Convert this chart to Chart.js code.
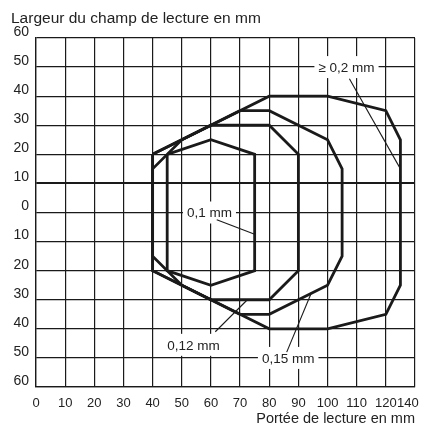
<!DOCTYPE html>
<html>
<head>
<meta charset="utf-8">
<script src="https://cdn.jsdelivr.net/npm/chart.js@4.4.1/dist/chart.umd.min.js"></script>
<style>
    html, body { margin: 0; background: #fff; }
</style>
</head>
<body>
<canvas id="fieldChart" width="428" height="428"></canvas>
<script>
// Reading field outlines (range x, width y) in mm, one per resolution
const field01X = [45, 60, 75, 75, 60, 45];
const field01Y = [20, 25, 20, -20, -25, -20];
const field012X = [40, 60, 80, 90, 90, 80, 60, 40];
const field012Y = [20, 30, 30, 20, -20, -30, -30, -20];
const field015X = [40, 50, 70, 80, 100, 105, 105, 100, 80, 70, 50, 40];
const field015Y = [15, 25, 35, 35, 25, 15, -15, -25, -35, -35, -25, -15];
const field02X = [40, 80, 100, 120, 125, 125, 120, 100, 80, 40];
const field02Y = [20, 40, 40, 35, 25, -25, -35, -40, -40, -20];

// Tick labels
const xTickLabels = ['0', '10', '20', '30', '40', '50', '60', '70', '80', '90', '100', '110', '120', '140'];
const yTickValues = [60, 50, 40, 30, 20, 10, 0, -10, -20, -30, -40, -50, -60];
const yTickLabels = ['60', '50', '40', '30', '20', '10', '0', '10', '20', '30', '40', '50', '60'];

// Resolution labels and their leader lines (data units)
const resLabels = ['0,1 mm', '0,12 mm', '0,15 mm', '\u2265 0,2 mm'];
const resLabelX = [59.5, 54, 86.5, 106.5];
const resLabelY = [0, -45.5, -50, 50];
const leaderFromX = [62, 61.5, 86, 107.5];
const leaderFromY = [-2.5, -41, -48, 46];
const leaderToX = [75, 72.5, 94.5, 125];
const leaderToY = [-7.5, -30, -27.5, 15];

const FONT = '"Liberation Sans", Arial, Helvetica, sans-serif';
const INK = '#1a1a1a';

function outline(xs, ys) {
    const pts = xs.map((x, i) => ({ x: x, y: ys[i] }));
    pts.push(pts[0]); // close the polygon
    return pts;
}

function fieldDataset(xs, ys) {
    return {
        data: outline(xs, ys),
        showLine: true,
        borderColor: INK,
        borderWidth: 2.8,
        borderJoinStyle: 'miter',
        pointRadius: 0,
        tension: 0,
        fill: false
    };
}

const labelsPlugin = {
    id: 'fieldLabels',
    afterDatasetsDraw(chart) {
        const { ctx, scales: { x, y } } = chart;
        ctx.save();
        ctx.font = '13.5px ' + FONT;
        ctx.textAlign = 'center';
        ctx.textBaseline = 'middle';
        resLabels.forEach((txt, i) => {
            const cx = x.getPixelForValue(resLabelX[i]);
            const cy = y.getPixelForValue(resLabelY[i]);
            const w = ctx.measureText(txt).width + 8;
            ctx.fillStyle = '#fff';
            ctx.fillRect(cx - w / 2, cy - 11, w, 22);
            ctx.fillStyle = '#222';
            ctx.fillText(txt, cx, cy + 1);

            // leader line
            ctx.beginPath();
            ctx.strokeStyle = INK;
            ctx.lineWidth = 1.1;
            ctx.moveTo(x.getPixelForValue(leaderFromX[i]), y.getPixelForValue(leaderFromY[i]));
            ctx.lineTo(x.getPixelForValue(leaderToX[i]), y.getPixelForValue(leaderToY[i]));
            ctx.stroke();
        });
        ctx.restore();
    },
    afterDraw(chart) {
        const ctx = chart.ctx;
        ctx.save();
        ctx.font = '15.5px ' + FONT;
        ctx.fillStyle = '#222';
        ctx.textAlign = 'left';
        ctx.textBaseline = 'alphabetic';
        ctx.fillText('Largeur du champ de lecture en mm', 11, 23);
        ctx.restore();
    }
};

new Chart(document.getElementById('fieldChart'), {
    type: 'scatter',
    data: {
        datasets: [
            fieldDataset(field01X, field01Y),
            fieldDataset(field012X, field012Y),
            fieldDataset(field015X, field015Y),
            fieldDataset(field02X, field02Y)
        ]
    },
    options: {
        responsive: false,
        animation: false,
        layout: { padding: { left: 0, right: 13, top: 38, bottom: 0 } },
        plugins: {
            legend: { display: false },
            tooltip: { enabled: false }
        },
        scales: {
            x: {
                type: 'linear',
                min: 0,
                max: 130,
                afterFit: (scale) => {
                    scale.height = 41;
                    scale.paddingLeft = 0;
                    scale.paddingRight = 0;
                },
                border: { color: INK, width: 1.3 },
                grid: { color: INK, lineWidth: 1.2, drawTicks: false },
                ticks: {
                    stepSize: 10,
                    padding: 9,
                    color: '#222',
                    font: { family: FONT, size: 13 },
                    maxRotation: 0,
                    autoSkip: false,
                    // last label sits left of its grid line in the original
                    callback: (v, i) => i === xTickLabels.length - 1 ? xTickLabels[i] + '\u00a0'.repeat(4) : xTickLabels[i]
                },
                title: {
                    display: true,
                    text: 'Portée de lecture en mm',
                    align: 'end',
                    color: '#222',
                    font: { family: FONT, size: 14.5 },
                    padding: { top: 0, bottom: 0 }
                }
            },
            y: {
                type: 'linear',
                min: -60,
                max: 60,
                afterFit: (scale) => {
                    scale.width = 36;
                    scale.paddingTop = 0;
                    scale.paddingBottom = 0;
                },
                border: { color: INK, width: 1.3 },
                grid: {
                    color: INK,
                    lineWidth: (c) => c.tick && c.tick.value === 10 ? 1.9 : 1.2,
                    drawTicks: false
                },
                ticks: {
                    stepSize: 10,
                    padding: 7,
                    labelOffset: -6,
                    color: '#222',
                    font: { family: FONT, size: 14 },
                    callback: (v) => yTickLabels[yTickValues.indexOf(v)]
                }
            }
        }
    },
    plugins: [labelsPlugin]
});
</script>
</body>
</html>
